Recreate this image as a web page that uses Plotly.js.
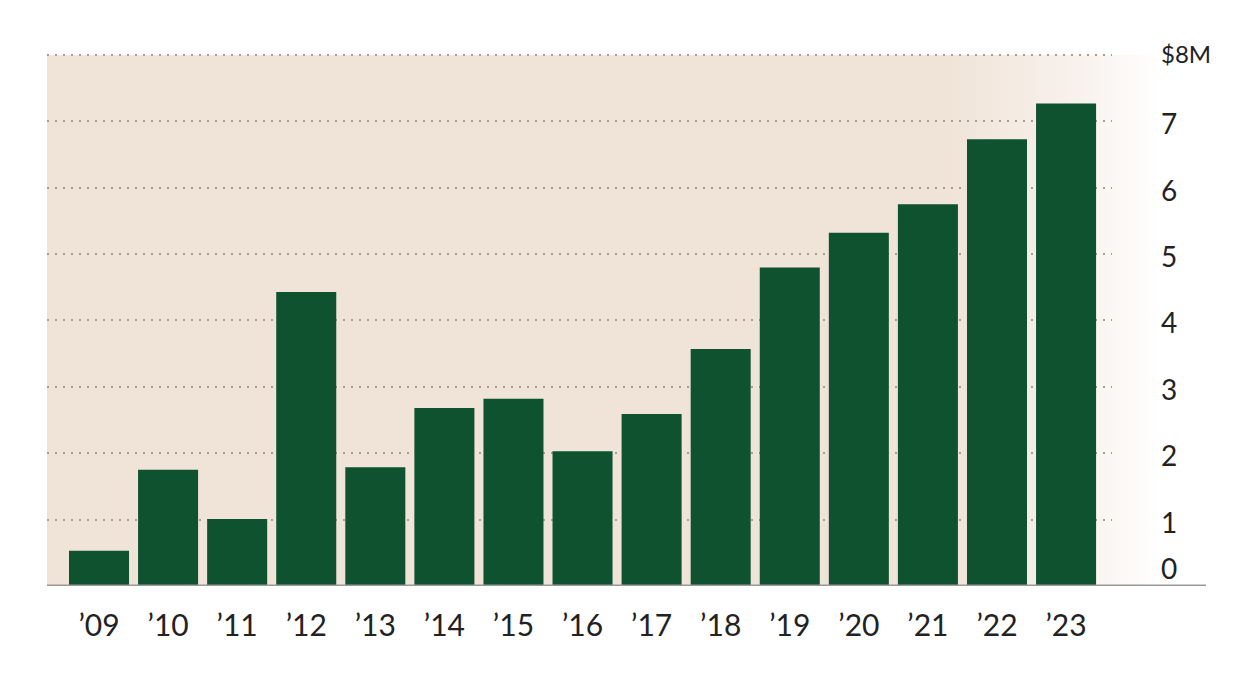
<!DOCTYPE html>
<html>
<head>
<meta charset="utf-8">
<script src="https://cdn.plot.ly/plotly-3.0.1.min.js"></script>
<style>
html,body{margin:0;padding:0;background:#fff;}
#chart{width:1250px;height:677px;}
</style>
</head>
<body>
<div id="chart"></div>
<script>
// Data (millions of dollars)
const years = ["’09","’10","’11","’12","’13","’14","’15","’16","’17","’18","’19","’20","’21","’22","’23"];
const values = [0.53, 1.75, 1.01, 4.43, 1.79, 2.68, 2.82, 2.03, 2.59, 3.57, 4.80, 5.32, 5.75, 6.73, 7.27];
const yTickVals = [0, 1, 2, 3, 4, 5, 6, 7, 8];
const yTickText = ["0", "1", "2", "3", "4", "5", "6", "7", "$8M"];

const W = 1250, H = 677;
const mL = 47, mR = 138, mT = 51, mB = 91;
const plotW = W - mL - mR;
const yMax = yTickVals[yTickVals.length - 1];

const FONT = "Lato, 'Open Sans', sans-serif";
const TXT = "#222222";

const bars = {
  type: "bar",
  x: years.map((_, i) => i),
  y: values,
  marker: {color: "#0f5230", line: {width: 0}},
  width: 0.869,
  hoverinfo: "skip"
};

const gradSvg = '<svg xmlns="http://www.w3.org/2000/svg" width="1000" height="100" preserveAspectRatio="none">' +
  '<defs><linearGradient id="g" x1="0" y1="0" x2="1" y2="0">' +
  '<stop offset="0" stop-color="#f0e3d7"/>' +
  '<stop offset="0.80" stop-color="#f0e3d7"/>' +
  '<stop offset="0.93" stop-color="#f8f2ed"/>' +
  '<stop offset="1" stop-color="#ffffff"/>' +
  '</linearGradient></defs><rect width="1000" height="100" fill="url(#g)"/></svg>';
const gradUri = "data:image/svg+xml;base64," + btoa(gradSvg);

const annotations = yTickVals.map((v, i) => {
  const isTop = i === yTickVals.length - 1;
  const isZero = v === 0;
  return {
    xref: "paper", yref: "y",
    x: (1159 - mL) / plotW, y: v,
    xanchor: "left", yanchor: "middle",
    text: yTickText[i],
    showarrow: false,
    yshift: isZero ? 18 : (isTop ? 1 : -2),
    font: {family: FONT, size: isTop ? 24 : 28, color: TXT, weight: 400}
  };
});

const layout = {
  width: W, height: H,
  margin: {l: mL, r: mR, t: mT, b: mB, pad: 0},
  paper_bgcolor: "#ffffff",
  plot_bgcolor: "rgba(0,0,0,0)",
  showlegend: false,
  bargap: 0.13,
  xaxis: {
    range: [-0.753, 14.665],
    tickmode: "array",
    tickvals: years.map((_, i) => i),
    ticktext: years,
    showgrid: false, zeroline: false, showline: false,
    ticks: "", ticklabelstandoff: 19,
    tickfont: {family: FONT, size: 30, color: TXT, weight: 400},
    fixedrange: true
  },
  yaxis: {
    range: [0, yMax + 0.06],
    tickmode: "array",
    tickvals: yTickVals,
    showticklabels: false,
    showgrid: true,
    gridcolor: "#a59d96",
    gridwidth: 2,
    griddash: "2px,6px",
    zeroline: false, showline: false, ticks: "",
    fixedrange: true
  },
  images: [{
    source: gradUri,
    xref: "paper", yref: "y",
    x: 0, y: yMax, sizex: (1160 - mL) / plotW, sizey: yMax,
    xanchor: "left", yanchor: "top",
    sizing: "stretch", layer: "below"
  }],
  shapes: [{
    type: "line", xref: "paper", yref: "y",
    x0: 0, x1: (1206 - mL) / plotW, y0: 0, y1: 0,
    line: {color: "#9a9a9a", width: 3},
    layer: "above"
  }],
  annotations: annotations
};

Plotly.newPlot("chart", [bars], layout, {displayModeBar: false, staticPlot: true});
</script>
</body>
</html>
